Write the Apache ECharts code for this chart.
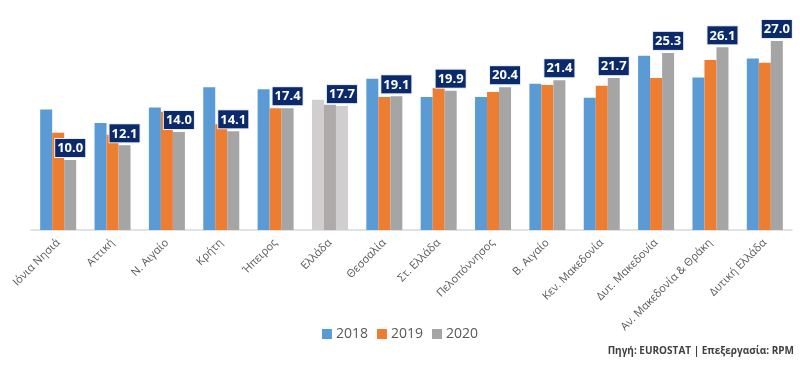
<!DOCTYPE html>
<html>
<head>
<meta charset="utf-8">
<script src="https://cdn.jsdelivr.net/npm/echarts@6/dist/echarts.min.js"></script>
<style>html,body{margin:0;padding:0;background:#fff}#c{width:800px;height:366px}</style>
</head>
<body>
<div id="c"></div>
<script>
var categories = ['Ιόνια Νησιά','Αττική','Ν. Αιγαίο','Κρήτη','Ήπειρος','Ελλάδα','Θεσσαλία','Στ. Ελλάδα','Πελοπόννησος','Β. Αιγαίο','Κεν. Μακεδονία','Δυτ. Μακεδονία','Αν. Μακεδονία & Θράκη','Δυτική Ελλάδα'];
var years = ['2018','2019','2020'];
var values2018 = [17.2,15.3,17.5,20.4,20.1,18.6,21.6,19.0,19.0,20.9,18.9,24.9,21.8,24.5];
var values2019 = [13.9,13.6,16.9,15.1,17.4,17.9,19.0,20.3,19.7,20.7,20.6,21.7,24.3,23.9];
var values2020 = [10.0,12.1,14.0,14.1,17.4,17.7,19.1,19.9,20.4,21.4,21.7,25.3,26.1,27.0];
var colors = ['#5B9BD5','#ED7D31','#A5A5A5'];
var greeceColors = ['#D0CECE','#AEAAAA','#D0CECE'];
var highlight = 'Ελλάδα';

function mk(vals, idx) {
  return vals.map(function(v, i){
    if (categories[i] === highlight) return {value: v, itemStyle: {color: greeceColors[idx]}};
    return v;
  });
}
var font = '"Open Sans", "Noto Sans", sans-serif';
var chart = echarts.init(document.getElementById('c'), null, {renderer: 'canvas'});
chart.setOption({
  animation: false,
  color: colors,
  textStyle: {fontFamily: font},
  grid: {left: 31, right: 8, top: 20, bottom: 136},
  legend: {
    data: years, bottom: 20, left: 'center',
    itemWidth: 10, itemHeight: 10, itemGap: 9, icon: 'rect',
    textStyle: {fontSize: 14, color: '#595959', fontFamily: font, padding: [0, 0, 0, -1]}
  },
  xAxis: {
    type: 'category', data: categories,
    axisLine: {lineStyle: {color: '#D9D9D9', width: 1.5}},
    axisTick: {show: false},
    axisLabel: {rotate: 45, fontSize: 11, color: '#595959', margin: 11, interval: 0, fontFamily: font}
  },
  yAxis: {type: 'value', min: 0, max: 30, show: false, splitLine: {show: false}},
  series: [
    {name: '2018', type: 'bar', data: mk(values2018, 0), barWidth: 12, barGap: '0%'},
    {name: '2019', type: 'bar', data: mk(values2019, 1), barWidth: 12, barGap: '0%'},
    {name: '2020', type: 'bar', data: mk(values2020, 2), barWidth: 12, barGap: '0%',
      label: {show: true, position: 'top', distance: 3,
        formatter: function(p){ return p.value.toFixed(1); },
        color: '#fff', fontWeight: 'bold', fontSize: 13, fontFamily: font,
        backgroundColor: '#0B2A6B', borderColor: '#E8ECF4', borderWidth: 1,
        padding: [3, 2, 2, 2]}}
  ],
  graphic: [{
    type: 'text', right: 6, top: 346,
    style: {text: 'Πηγή: EUROSTAT | Επεξεργασία: RPM', fontSize: 10, fontWeight: 'bold', fill: '#404040', fontFamily: font}
  }]
});
</script>
</body>
</html>
